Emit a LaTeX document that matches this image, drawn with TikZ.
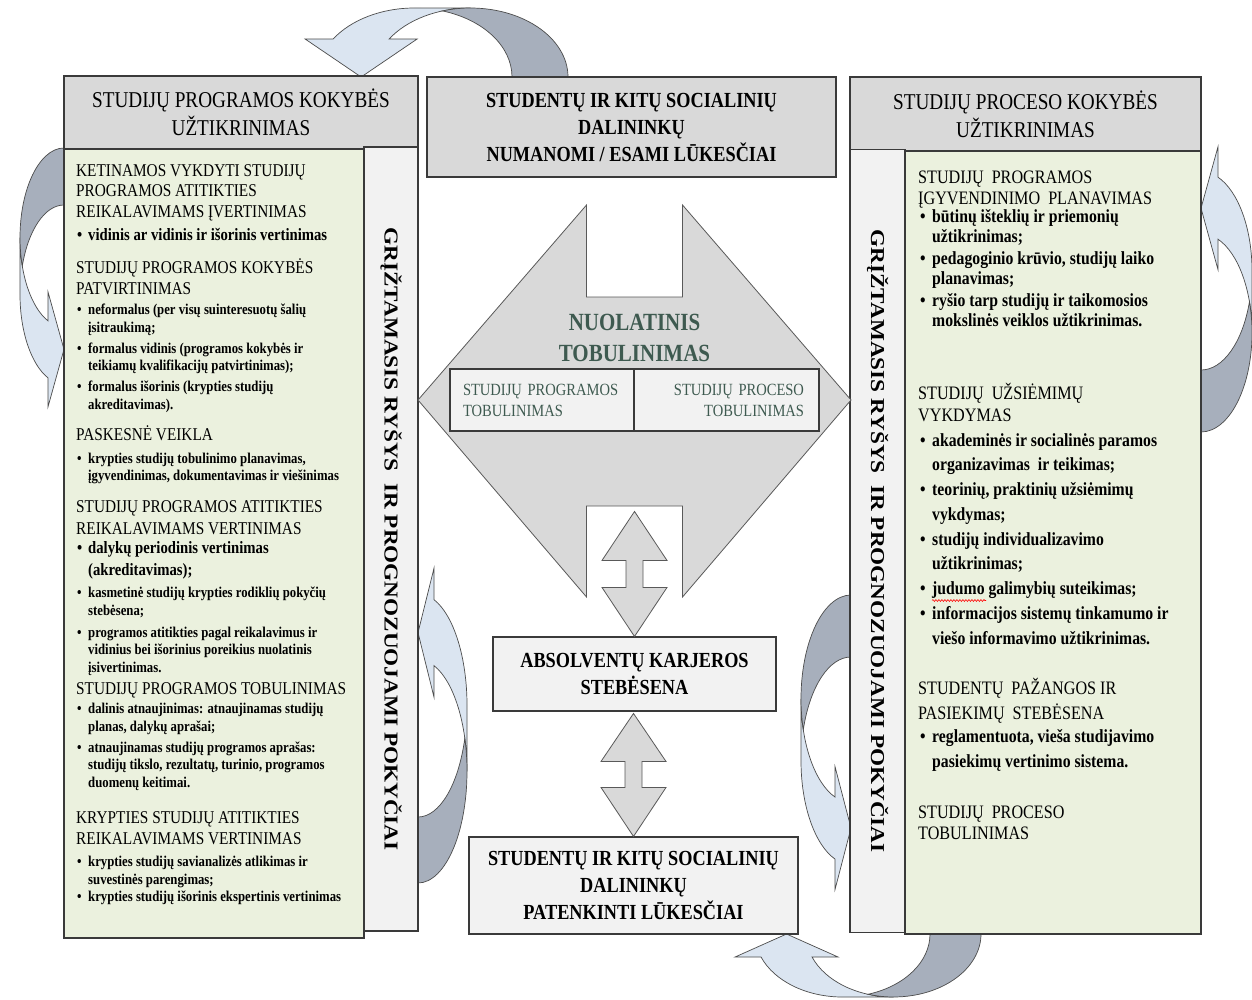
\documentclass[tikz,border=0pt]{standalone}
\usepackage{fontspec}
\usepackage{graphicx}
\setmainfont{Liberation Serif}[FakeStretch=0.85]
\newfontfamily\vertfont{Liberation Serif}
\usetikzlibrary{decorations.pathmorphing}

\definecolor{hdrgrey}{HTML}{D9D9D9}
\definecolor{bodygreen}{HTML}{EBF1DE}
\definecolor{palegrey}{HTML}{F2F2F2}
\definecolor{edgegrey}{HTML}{3A3A3A}
\definecolor{arrowlight}{HTML}{DBE5F1}
\definecolor{arrowdark}{HTML}{A7AFBC}
\definecolor{slate}{HTML}{3E5A50}

\newcommand\lbul{\makebox[11pt][l]{\textbullet}}
\newcommand\lind{\hspace*{11pt}}
\newcommand\rbul{\makebox[12pt][l]{\textbullet}}
\newcommand\rind{\hspace*{12pt}}

% curved block arrow in its own frame: bulge at x=0, tail at top right,
% head at bottom right; #1 width, #2 height, #3 band, #4 head width, #5 head length
\newcommand\curvarrow[5]{%
  \pgfmathsetmacro\cvW{#1}\pgfmathsetmacro\cvH{#2}%
  \pgfmathsetmacro\cvT{#3}\pgfmathsetmacro\cvA{#4}\pgfmathsetmacro\cvL{#5}%
  \pgfmathsetmacro\cvR{\cvH/2-(\cvT+\cvA)/4}%
  \pgfmathsetmacro\cvE{180-acos(\cvL/\cvW)}%
  \pgfmathsetmacro\cvY{\cvR+\cvR*sin(\cvE)}%
  \pgfmathsetmacro\cvD{(\cvA-\cvT)/2}%
  \pgfmathsetmacro\cvX{\cvW-\cvL}%
  \pgfmathsetmacro\cvG{asin(\cvT/(2*\cvR))}%
  \filldraw[arrowfront] (0,\cvR) arc[start angle=180, end angle=\cvE, x radius=\cvW, y radius=\cvR]
    -- (\cvX,\cvY-\cvD) -- (\cvW,\cvY+\cvT/2) -- (\cvX,\cvY+\cvT+\cvD) -- (\cvX,\cvY+\cvT)
    arc[start angle=\cvE, end angle=180, x radius=\cvW, y radius=\cvR] -- cycle;
  \filldraw[arrowback] (\cvW,\cvT) arc[start angle=270, end angle=180+\cvG, x radius=\cvW, y radius=\cvR]
    arc[start angle=180-\cvG, end angle=270, x radius=\cvW, y radius=\cvR] -- cycle;
}

\begin{document}
\begin{tikzpicture}[x=1pt,y=-1pt,
  blockbox/.style={draw=edgegrey, line width=1.1pt, inner sep=0pt, align=center},
  hdrfont/.style={font=\fontsize{22.6}{28}\selectfont},
  midfont/.style={font=\bfseries\fontsize{21.5}{27}\selectfont},
  vertlabel/.style={rotate=-90, font=\vertfont\bfseries\fontsize{23.2}{28}\selectfont},
  lhd/.style={anchor=base west, inner sep=0pt, align=left, font=\fontsize{18}{#1}\selectfont},
  lhd/.default=20.5,
  lbig/.style={anchor=base west, inner sep=0pt, align=left, font=\bfseries\fontsize{17.3}{#1}\selectfont},
  lbig/.default=22,
  lsmall/.style={anchor=base west, inner sep=0pt, align=left, font=\bfseries\fontsize{15}{#1}\selectfont},
  lsmall/.default=17.5,
  rhd/.style={anchor=base west, inner sep=0pt, align=left, font=\fontsize{19}{#1}\selectfont},
  rhd/.default=21,
  rtxt/.style={anchor=base west, inner sep=0pt, align=left, font=\bfseries\fontsize{18.5}{#1}\selectfont},
  rtxt/.default=20,
  arrowfront/.style={fill=arrowlight, draw=black!70, line width=0.7pt},
  arrowback/.style={fill=arrowdark, draw=black!70, line width=0.7pt},
  dblarrow/.style={fill=hdrgrey, draw=black!65, line width=0.8pt}]

\useasboundingbox[fill=white] (0,0) rectangle (1252,999);

% curved arrows round the panels
\begin{scope}[shift={(20,148)}] \curvarrow{44}{265}{57}{115}{16} \end{scope}
\begin{scope}[shift={(801,595)}] \curvarrow{50}{300}{62}{123}{16} \end{scope}
\begin{scope}[shift={(467,883)}, rotate=180] \curvarrow{49}{321}{66}{129}{16} \end{scope}
\begin{scope}[shift={(1252,432)}, rotate=180] \curvarrow{51}{291}{62}{123}{17} \end{scope}
\begin{scope}[cm={0,-1,1,0,(568,8)}] \curvarrow{69}{279}{56}{112}{38} \end{scope}
\begin{scope}[cm={0,1,1,0,(981,997)}] \curvarrow{63}{252}{51}{103}{23} \end{scope}

% left panel (text nodes sit on the baseline of their last line)
\node[blockbox, fill=hdrgrey, minimum width=354pt, minimum height=73pt, hdrfont] (lhead) at (241,112.5)
  {STUDIJŲ PROGRAMOS KOKYBĖS\\UŽTIKRINIMAS};
\node[blockbox, fill=bodygreen, minimum width=300pt, minimum height=789pt] (lbody) at (214,543.5) {};
\node[blockbox, fill=palegrey, minimum width=784pt, minimum height=54pt, vertlabel] (lstrip) at (391,539)
  {\scalebox{1}[0.85]{GRĮŽTAMASIS RYŠYS~~IR PROGNOZUOJAMI POKYČIAI}};

\node[lhd] (lh1) at (76,217) {KETINAMOS VYKDYTI STUDIJŲ\\PROGRAMOS ATITIKTIES\\REIKALAVIMAMS ĮVERTINIMAS};
\node[lbig] (lb1) at (77,240) {\lbul vidinis ar vidinis ir išorinis vertinimas};
\node[lhd=21] (lh2) at (76,294) {STUDIJŲ PROGRAMOS KOKYBĖS\\PATVIRTINIMAS};
\node[lsmall] (lb2) at (77,409) {\lbul neformalus (per visų suinteresuotų šalių\\\lind įsitraukimą;\\[3.5pt]%
  \lbul formalus vidinis (programos kokybės ir\\\lind teikiamų kvalifikacijų patvirtinimas);\\[3.5pt]%
  \lbul formalus išorinis (krypties studijų\\\lind akreditavimas).};
\node[lhd] (lh3) at (76,440) {PASKESNĖ VEIKLA};
\node[lsmall=17] (lb3) at (77,480.5) {\lbul krypties studijų tobulinimo planavimas,\\\lind įgyvendinimas, dokumentavimas ir viešinimas};
\node[lhd=22] (lh4) at (76,534) {STUDIJŲ PROGRAMOS ATITIKTIES\\REIKALAVIMAMS VERTINIMAS};
\node[lbig] (lb4) at (77,575) {\lbul dalykų periodinis vertinimas\\\lind(akreditavimas);};
\node[lsmall] (lb5) at (77,672) {\lbul kasmetinė studijų krypties rodiklių pokyčių\\\lind stebėsena;\\[4.5pt]%
  \lbul programos atitikties pagal reikalavimus ir\\\lind vidinius bei išorinius poreikius nuolatinis\\\lind įsivertinimas.};
\node[lhd] (lh5) at (76,694) {STUDIJŲ PROGRAMOS TOBULINIMAS};
\node[lsmall] (lb6) at (77,787) {\lbul dalinis atnaujinimas: atnaujinamas studijų\\\lind planas, dalykų aprašai;\\[3.5pt]%
  \lbul atnaujinamas studijų programos aprašas:\\\lind studijų tikslo, rezultatų, turinio, programos\\\lind duomenų keitimai.};
\node[lhd=21] (lh6) at (76,844) {KRYPTIES STUDIJŲ ATITIKTIES\\REIKALAVIMAMS VERTINIMAS};
\node[lsmall] (lb7) at (77,901.5) {\lbul krypties studijų savianalizės atlikimas ir\\\lind suvestinės parengimas;\\%
  \lbul krypties studijų išorinis ekspertinis vertinimas};

% right panel
\node[blockbox, fill=hdrgrey, minimum width=351pt, minimum height=74pt, hdrfont] (rhead) at (1025.5,114)
  {STUDIJŲ PROCESO KOKYBĖS\\UŽTIKRINIMAS};
\node[blockbox, fill=palegrey, minimum width=783pt, minimum height=55pt, vertlabel] (rstrip) at (877.5,541)
  {\scalebox{1}[0.85]{GRĮŽTAMASIS RYŠYS~~IR PROGNOZUOJAMI POKYČIAI}};
\node[blockbox, fill=bodygreen, minimum width=296pt, minimum height=783pt] (rbody) at (1053,542.5) {};

\node[rhd] (rh1) at (918,204.5) {STUDIJŲ~~PROGRAMOS\\ĮGYVENDINIMO~~PLANAVIMAS};
\node[rtxt] (rb1) at (920,326) {\rbul būtinų išteklių ir priemonių\\\rind užtikrinimas;\\[2pt]%
  \rbul pedagoginio krūvio, studijų laiko\\\rind planavimas;\\[2pt]%
  \rbul ryšio tarp studijų ir taikomosios\\\rind mokslinės veiklos užtikrinimas.};
\node[rhd=22] (rh2) at (918,421.5) {STUDIJŲ~~UŽSIĖMIMŲ\\VYKDYMAS};
\node[rtxt=24.75] (rb2) at (920,644) {\rbul akademinės ir socialinės paramos\\\rind organizavimas~~ir teikimas;\\%
  \rbul teorinių, praktinių užsiėmimų\\\rind vykdymas;\\%
  \rbul studijų individualizavimo\\\rind užtikrinimas;\\%
  \rbul judumo galimybių suteikimas;\\%
  \rbul informacijos sistemų tinkamumo ir\\\rind viešo informavimo užtikrinimas.};
\draw[red, line width=0.6pt, decorate, decoration={snake, amplitude=0.9pt, segment length=3pt}] (932,600.5) -- (986,600.5);
\node[rhd=25] (rh3) at (918,719.5) {STUDENTŲ~~PAŽANGOS IR\\PASIEKIMŲ~~STEBĖSENA};
\node[rtxt=25] (rb3) at (920,767) {\rbul reglamentuota, vieša studijavimo\\\rind pasiekimų vertinimo sistema.};
\node[rhd] (rh4) at (918,839.5) {STUDIJŲ~~PROCESO\\TOBULINIMAS};

% centre column
\node[blockbox, fill=hdrgrey, minimum width=409pt, minimum height=100pt, midfont] (expect) at (631.5,127)
  {STUDENTŲ IR KITŲ SOCIALINIŲ\\DALININKŲ\\NUMANOMI / ESAMI LŪKESČIAI};

\draw[fill=hdrgrey, draw=black!65, line width=0.8pt] (418,400) -- (586.5,205) -- (586.5,297) -- (682.5,297)
  -- (682.5,205) -- (851,400) -- (682.5,597) -- (682.5,506) -- (586.5,506) -- (586.5,597) -- cycle;
\node[font=\bfseries\fontsize{24.7}{31}\selectfont, text=slate, align=center, inner sep=0pt] (nuolat) at (634.5,337.5)
  {NUOLATINIS\\TOBULINIMAS};
\node[blockbox, fill=palegrey, minimum width=184pt, minimum height=62pt, text width=158pt, align=left,
  text=slate, font=\fontsize{17.1}{21}\selectfont] (progimp) at (542,400) {STUDIJŲ PROGRAMOS\\TOBULINIMAS};
\node[blockbox, fill=palegrey, minimum width=185pt, minimum height=62pt, text width=155pt, align=right,
  text=slate, font=\fontsize{17.1}{21}\selectfont] (procimp) at (726.5,400) {STUDIJŲ PROCESO\\TOBULINIMAS};

\node[blockbox, fill=palegrey, minimum width=283pt, minimum height=74pt, midfont] (career) at (634.5,674)
  {ABSOLVENTŲ KARJEROS\\STEBĖSENA};
\node[blockbox, fill=palegrey, minimum width=329pt, minimum height=97pt, midfont] (satisf) at (633.5,885.5)
  {STUDENTŲ IR KITŲ SOCIALINIŲ\\DALININKŲ\\PATENKINTI LŪKESČIAI};

\draw[dblarrow] (career.north) -- ++(32.5,-49) -- ++(-24,0) -- ++(0,-27) -- ++(24,0) -- ++(-32.5,-49)
  -- ++(-32.5,49) -- ++(24,0) -- ++(0,27) -- ++(-24,0) -- cycle;
\draw[dblarrow] (satisf.north) -- ++(32.5,-49) -- ++(-24,0) -- ++(0,-26) -- ++(24,0) -- ++(-32.5,-48)
  -- ++(-32.5,48) -- ++(24,0) -- ++(0,26) -- ++(-24,0) -- cycle;
\end{tikzpicture}
\end{document}
